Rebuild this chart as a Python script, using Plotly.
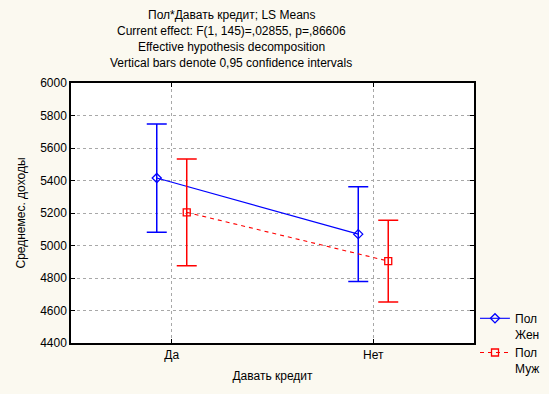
import plotly.graph_objects as go

categories = ["Да", "Нет"]
groups = ["Жен", "Муж"]
means_f = [5415, 5070]
ci_f = [333, 292]
means_m = [5204, 4904]
ci_m = [329, 251]
y_ticks = [4400, 4600, 4800, 5000, 5200, 5400, 5600, 5800, 6000]

title_lines = [
    "Пол*Давать кредит; LS Means",
    "Current effect: F(1, 145)=,02855, p=,86606",
    "Effective hypothesis decomposition",
    "Vertical bars denote 0,95 confidence intervals",
]

FONT = "Liberation Sans, Arial, sans-serif"
off = 0.0744
xs = list(range(len(categories)))

fig = go.Figure()
fig.add_trace(go.Scatter(
    x=[v - off for v in xs], y=means_f, name="Пол<br>Жен",
    mode="lines+markers",
    line=dict(color="#0000ff", width=1.1),
    marker=dict(symbol="diamond-open", size=7, color="#0000ff", line=dict(width=1.3)),
    error_y=dict(type="data", array=ci_f, color="#0000ff", thickness=1.5, width=10),
))
fig.add_trace(go.Scatter(
    x=[v + off for v in xs], y=means_m, name="Пол<br>Муж",
    mode="lines+markers",
    line=dict(color="#ff0000", width=1.1, dash="4px,4px"),
    marker=dict(symbol="square-open", size=7, color="#ff0000", line=dict(width=1.3)),
    error_y=dict(type="data", array=ci_m, color="#ff0000", thickness=1.5, width=10),
))

fig.update_layout(
    width=549, height=394,
    margin=dict(l=71, r=75, t=83, b=51, autoexpand=False),
    paper_bgcolor="#fbf9f0", plot_bgcolor="#ffffff",
    font=dict(family=FONT, size=12, color="#000000"),
    showlegend=True,
    legend=dict(x=1.0 + 1 / 403, xanchor="left", y=(343 - 304) / 260, yanchor="top",
                bgcolor="rgba(0,0,0,0)", font=dict(size=12), valign="top",
                tracegroupgap=0, itemwidth=30),
)
fig.update_xaxes(
    range=[-0.5, 1.5], tickvals=xs, ticktext=categories, automargin=False,
    showgrid=True, gridcolor="#a8a8a8", griddash="dot", gridwidth=1,
    showline=True, linecolor="#000000", linewidth=1.5, mirror="ticks",
    ticks="inside", ticklen=4, tickcolor="#000000", zeroline=False,
    title=dict(text="Давать кредит", standoff=10, font=dict(size=12)),
)
fig.update_yaxes(
    range=[4400, 6000], tickvals=y_ticks, automargin=False,
    showgrid=True, gridcolor="#a8a8a8", griddash="dot", gridwidth=1,
    showline=True, linecolor="#000000", linewidth=1.5, mirror="ticks",
    ticks="inside", ticklen=4, tickcolor="#000000", zeroline=False,
    title=dict(text="Среднемес. доходы", standoff=12, font=dict(size=12)),
)

for i, line in enumerate(title_lines):
    fig.add_annotation(
        text=line, xref="paper", yref="paper",
        x=(231 - 71) / 403, y=(343 - (15 + i * 16)) / 260,
        xanchor="center", yanchor="middle", showarrow=False,
        font=dict(size=12, family=FONT),
    )

fig.write_html("out.html")
